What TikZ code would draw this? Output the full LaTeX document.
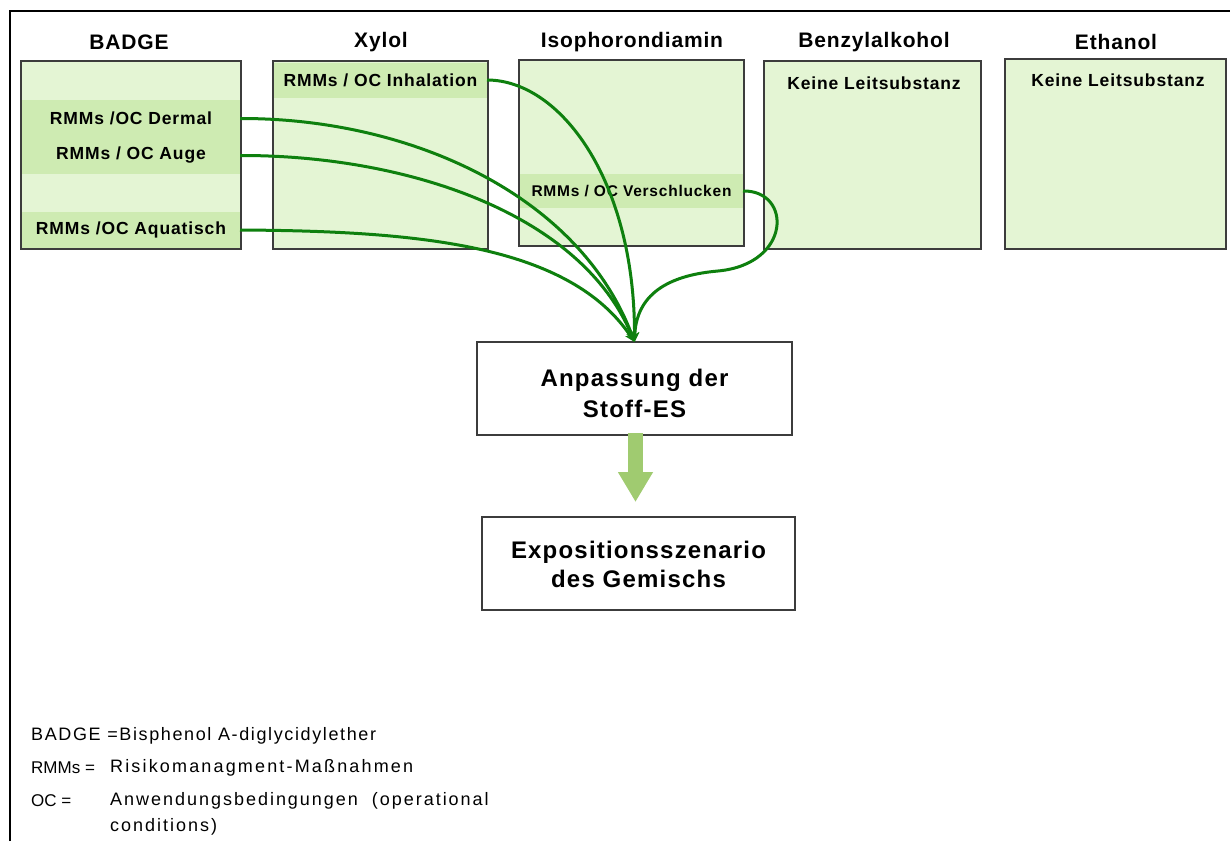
\documentclass[tikz,border=0pt]{standalone}
\usepackage{fontspec}
\setmainfont{Liberation Sans}
\usetikzlibrary{arrows.meta}
\definecolor{lightg}{RGB}{228,245,212}
\definecolor{darkg}{RGB}{206,235,178}
\definecolor{lineg}{RGB}{14,128,14}
\definecolor{fatg}{RGB}{160,203,112}
\definecolor{bordergray}{RGB}{60,60,60}
\begin{document}
\begin{tikzpicture}[x=1pt,y=-1pt,
  subbox/.style={draw=bordergray, line width=2pt, fill=lightg, inner sep=0pt, outer sep=0pt},
  band/.style={fill=darkg, inner sep=0pt, outer sep=0pt, font=\fontsize{17.5}{20}\selectfont\bfseries\addfontfeatures{LetterSpace=5}},
  head/.style={font=\fontsize{21}{25}\selectfont\bfseries\addfontfeatures{LetterSpace=4}, inner sep=0pt},
  plain/.style={font=\fontsize{17.5}{20}\selectfont\bfseries\addfontfeatures{LetterSpace=5}, inner sep=0pt},
  mainbox/.style={draw=bordergray, line width=2pt, fill=white, inner sep=0pt, outer sep=0pt,
    minimum width=315pt, minimum height=93pt},
  maintext/.style={inner sep=0pt, align=center, font=\fontsize{24}{31}\selectfont\bfseries\addfontfeatures{LetterSpace=5}},
  legend/.style={font=\fontsize{18}{20}\selectfont, inner sep=0pt, anchor=west},
  conn/.style={draw=lineg, line width=3pt, -{Stealth[length=10pt,width=9pt]}}
]
\useasboundingbox (0,0) rectangle (1230,841);
\fill[white] (0,0) rectangle (1230,841);
% frame
\draw[line width=2.5pt] (10,841) -- (10,11) -- (1230,11);

% headers
\node[head] (hbadge) at (129,42) {BADGE};
\node[head] (hxylol) at (381,42) {Xylol};
\node[head] (hiso) at (632,42) {Isophorondiamin};
\node[head] (hbenz) at (874,42) {Benzylalkohol};
\node[head] (heth) at (1116,42) {Ethanol};

% substance boxes
\node[subbox, minimum width=220pt, minimum height=188pt] (badge) at (131,155) {};
\node[subbox, minimum width=215pt, minimum height=188pt] (xylol) at (380.5,155) {};
\node[subbox, minimum width=225pt, minimum height=186pt] (iso) at (631.5,153) {};
\node[subbox, minimum width=217pt, minimum height=188pt] (benz) at (872.5,155) {};
\node[subbox, minimum width=221pt, minimum height=190pt] (eth) at (1115.5,154) {};

% bands
\node[band, minimum width=218pt, minimum height=37pt] (dermal) at (131,118.5) {RMMs /OC Dermal};
\node[band, minimum width=218pt, minimum height=37pt] (auge) at (131,155.5) {RMMs / OC Auge};
\node[band, minimum width=218pt, minimum height=36pt] (aqua) at (131,230) {RMMs /OC Aquatisch};
\node[band, minimum width=213pt, minimum height=35pt] (inh) at (380.5,80) {RMMs / OC Inhalation};
\node[band, minimum width=223pt, minimum height=34pt, font=\fontsize{15.5}{18}\selectfont\bfseries\addfontfeatures{LetterSpace=5}] (versch) at (631.5,191) {RMMs / OC Verschlucken};
\node[plain] (kbenz) at (874,83) {Keine Leitsubstanz};
\node[plain] (keth) at (1118,80) {Keine Leitsubstanz};

% main boxes
\node[mainbox] (anp) at (634.5,388.5) {};
\node[maintext] (anptext) at ([yshift=-5pt]anp.center) {Anpassung der\\Stoff-ES};
\node[mainbox, minimum width=313pt] (exp) at (638.5,563.5) {};
\node[maintext, font=\fontsize{24}{29}\selectfont\bfseries\addfontfeatures{LetterSpace=5}] (exptext) at ([yshift=-1pt]exp.center) {Expositionsszenario\\des Gemischs};

% thick arrow
\coordinate (fatend) at ([yshift=15pt]exp.north);
\draw[fatg, line width=15pt, -{Triangle[width=33pt,length=30pt]}] ([xshift=1pt,yshift=2pt]anp.south) -- ([xshift=1pt]anp.south |- fatend);

% connectors
\draw[conn] (dermal.east) .. controls (410,118) and (580,195) .. (anp.north);
\draw[conn] (auge.east) .. controls (400,155) and (580,210) .. (anp.north);
\draw[conn] (aqua.east) .. controls (420,231) and (570,245) .. (anp.north);
\draw[conn] (inh.east) .. controls (560,80) and (635,180) .. (anp.north);
\draw[conn] (versch.east) .. controls (792,190) and (792,264) .. (718,271) .. controls (660,276) and (636,300) .. (anp.north);

% legend
\node[legend, font=\fontsize{18}{20}\selectfont\addfontfeatures{LetterSpace=9}] (l1) at (31,736) {BADGE =Bisphenol A-diglycidylether};
\node[legend, font=\fontsize{17}{20}\selectfont] (l2a) at (31,768) {RMMs =};
\node[legend, font=\fontsize{18}{20}\selectfont\addfontfeatures{LetterSpace=12}] (l2b) at (110,768) {Risikomanagment-Maßnahmen};
\node[legend, font=\fontsize{17}{20}\selectfont] (l3a) at (31,801) {OC =};
\node[legend, font=\fontsize{18}{20}\selectfont\addfontfeatures{LetterSpace=11}] (l3b) at (110,801) {Anwendungsbedingungen\ \ (operational};
\node[legend, font=\fontsize{18}{20}\selectfont\addfontfeatures{LetterSpace=11}] (l3c) at (110,827) {conditions)};
\end{tikzpicture}
\end{document}
